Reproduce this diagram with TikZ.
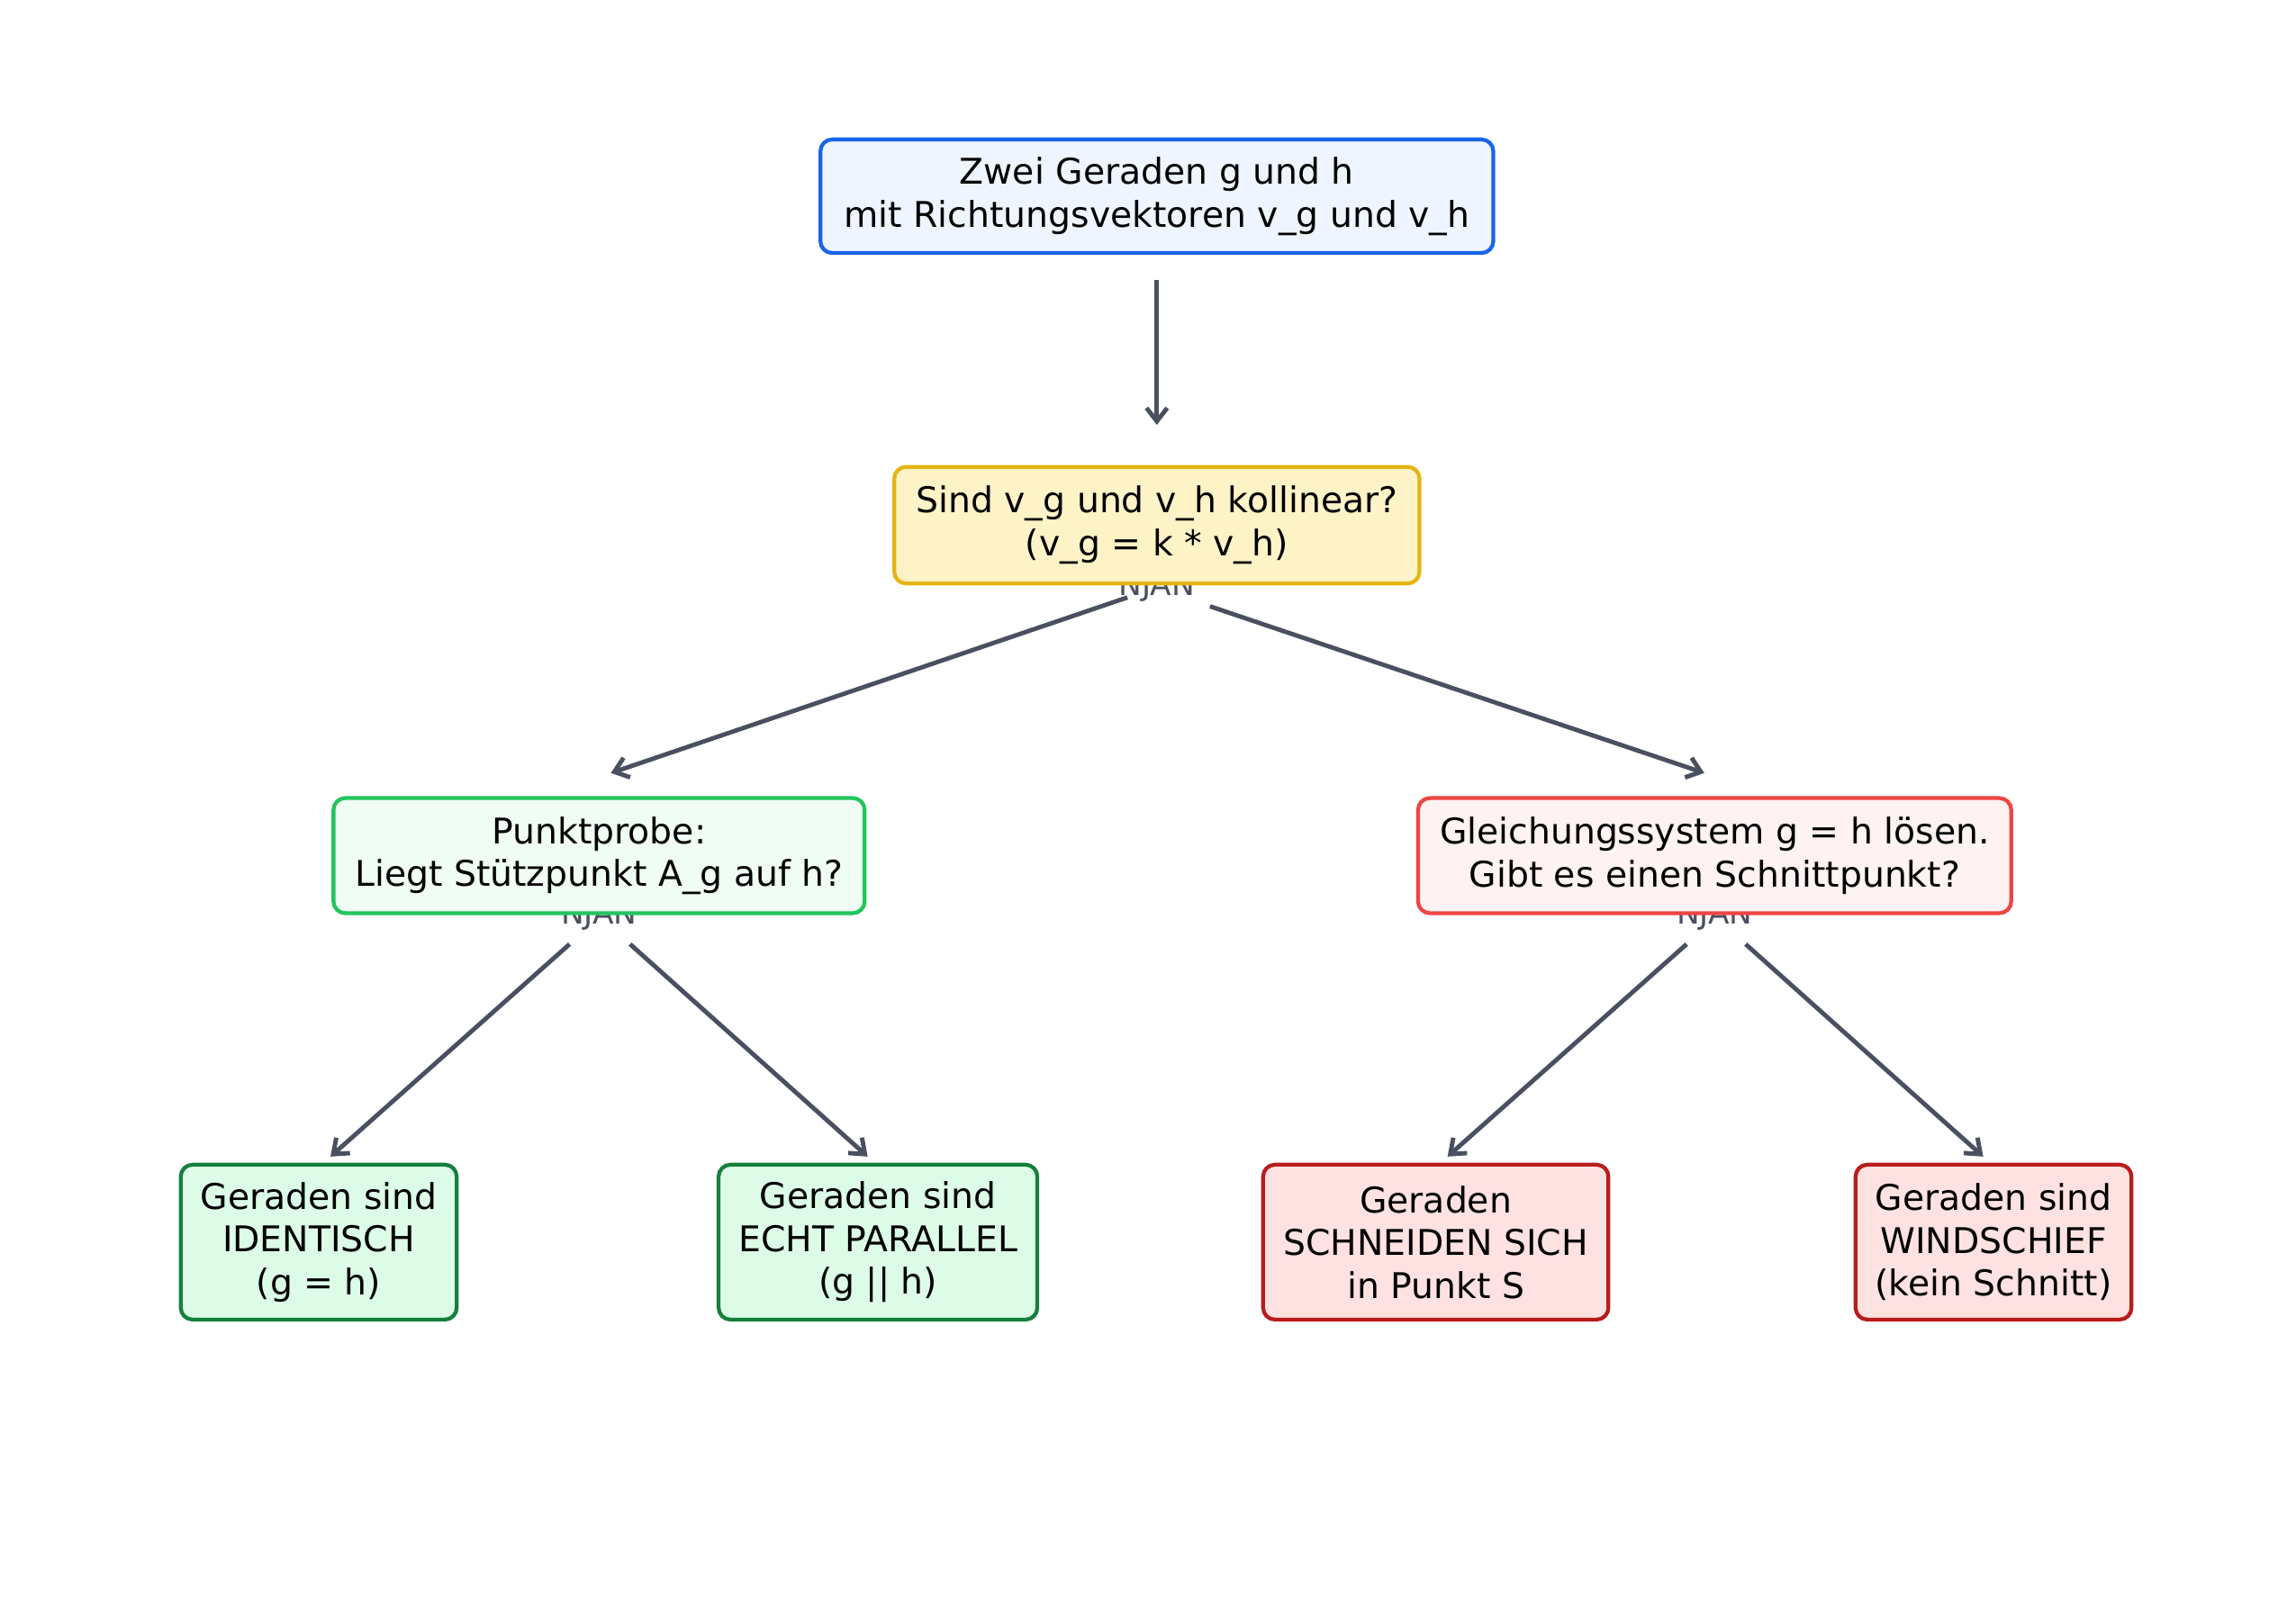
\documentclass[tikz,border=0pt]{standalone}
\usepackage{fontspec}
\setmainfont{DejaVu Sans}
\usetikzlibrary{arrows.meta}
\definecolor{arr}{HTML}{4B5060}
\begin{document}
\begin{tikzpicture}[x=1pt,y=-1pt,
  box/.style={draw,line width=2.6pt,rounded corners=8pt,align=center,font=\fontsize{24}{29}\selectfont,inner sep=0pt},
  lbl/.style={text=arr,font=\fontsize{21}{25}\selectfont},
  con/.style={draw=arr,line width=3pt,-{Straight Barb[length=9pt,width=14pt,line width=3pt]}}]
\useasboundingbox (0,0) rectangle (1556,1100);
\node[lbl] (l1) at (784,398) {NJAN};
\node[lbl] (l2) at (406,621) {NJAN};
\node[lbl] (l3) at (1162,621) {NJAN};
\node[box,draw={rgb,255:red,26;green,100;blue,235},fill={rgb,255:red,238;green,245;blue,255},minimum width=456pt,minimum height=77pt] (top) at (784,133) {Zwei Geraden g und h\\mit Richtungsvektoren v\_g und v\_h};
\node[box,draw={rgb,255:red,230;green,180;blue,18},fill={rgb,255:red,254;green,243;blue,199},minimum width=356pt,minimum height=79pt] (q) at (784,356) {Sind v\_g und v\_h kollinear?\\(v\_g = k * v\_h)};
\node[box,draw={rgb,255:red,34;green,197;blue,94},fill={rgb,255:red,240;green,253;blue,244},minimum width=360pt,minimum height=78pt] (pp) at (406,580) {Punktprobe:\\Liegt Stützpunkt A\_g auf h?};
\node[box,draw={rgb,255:red,239;green,68;blue,68},fill={rgb,255:red,254;green,242;blue,242},minimum width=402pt,minimum height=78pt] (gs) at (1162,580) {Gleichungssystem g = h lösen.\\Gibt es einen Schnittpunkt?};
\tikzset{gl/.style={box,draw={rgb,255:red,21;green,128;blue,61},fill={rgb,255:red,220;green,252;blue,231},minimum height=105pt},
 rl/.style={box,draw={rgb,255:red,185;green,28;blue,28},fill={rgb,255:red,254;green,226;blue,226},minimum height=105pt}}
\node[gl,minimum width=187pt] (a) at (216,842) {Geraden sind\\IDENTISCH\\(g = h)};
\node[gl,minimum width=216pt] (b) at (595,842) {Geraden sind\\ECHT PARALLEL\\(g || h)};
\node[rl,minimum width=234pt] (c) at (973,842) {Geraden\\SCHNEIDEN SICH\\in Punkt S};
\node[rl,minimum width=187pt] (d) at (1351,842) {Geraden sind\\WINDSCHIEF\\(kein Schnitt)};
\coordinate (s0) at (784,190); \coordinate (e0) at (784,288);
\coordinate (s1) at (764,405); \coordinate (e1) at (414,524);
\coordinate (s2) at (820,411); \coordinate (e2) at (1155,524);
\coordinate (s3) at (386,640); \coordinate (e3) at (224,784);
\coordinate (s4) at (427,640); \coordinate (e4) at (588,784);
\coordinate (s5) at (1143,640); \coordinate (e5) at (981,784);
\coordinate (s6) at (1183,640); \coordinate (e6) at (1344,784);
\foreach \i in {0,...,6} \draw[con] (s\i) -- (e\i);
\end{tikzpicture}
\end{document}
